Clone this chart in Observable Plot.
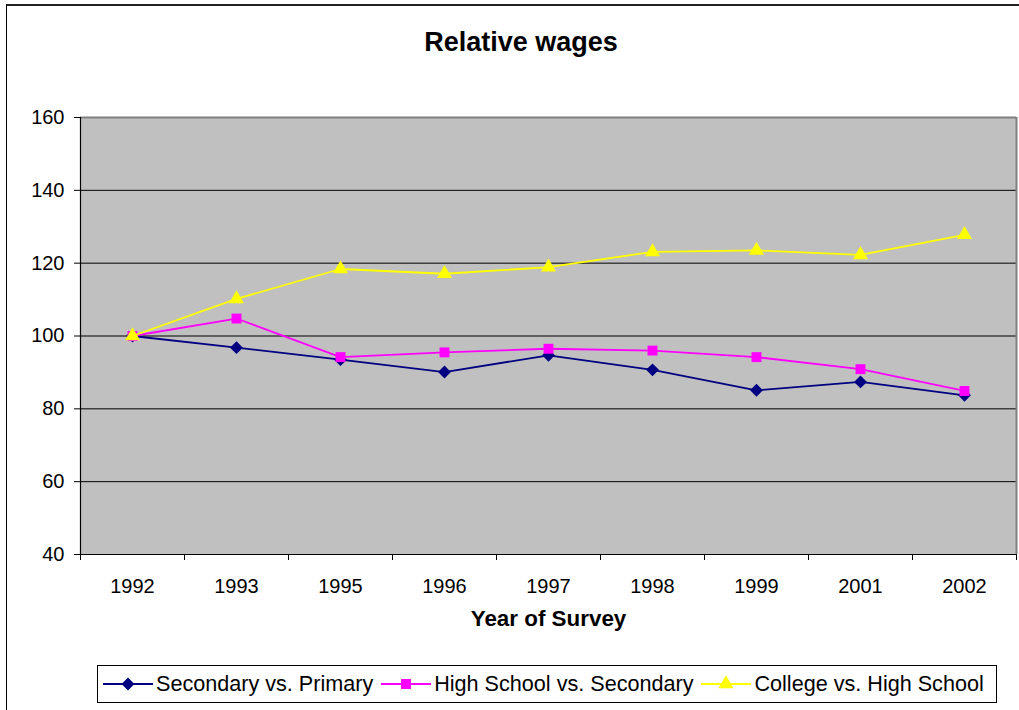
<!DOCTYPE html>
<html><head><meta charset="utf-8">
<script src="https://cdn.jsdelivr.net/npm/d3@7"></script>
<script src="https://cdn.jsdelivr.net/npm/@observablehq/plot@0.6"></script>
<style>
body{margin:0;background:#fff;font-family:"Liberation Sans",Arial,sans-serif;}
#wrap{position:relative;width:1019px;height:710px;overflow:hidden;}
#frame{position:absolute;left:6px;top:4px;width:1100px;height:800px;border-left:1.5px solid #000;border-top:2px solid #222;}
#title{position:absolute;left:0;width:1042px;top:27px;text-align:center;font-weight:bold;font-size:27px;color:#000;}
#chart{position:absolute;left:0;top:0;}
#legend{position:absolute;left:97px;top:665px;width:900px;height:38px;border:1px solid #000;display:flex;align-items:center;padding-left:5px;box-sizing:border-box;background:#fff;}
.item{display:flex;align-items:center;margin-right:8px;font-size:21.6px;color:#000;white-space:nowrap;}
.item svg{margin-right:3px;}
</style></head>
<body>
<div id="wrap">
<div id="frame"></div>
<div id="title">Relative wages</div>
<div id="chart"></div>
<div id="legend"></div>
</div>
<script>
const years = ["1992","1993","1995","1996","1997","1998","1999","2001","2002"];
const seriesNames = ["Secondary vs. Primary","High School vs. Secondary","College vs. High School"];
const secondaryVsPrimary = [100, 96.8, 93.5, 90.1, 94.7, 90.7, 85.1, 87.4, 83.7];
const highSchoolVsSecondary = [100, 104.8, 94.2, 95.5, 96.5, 96.0, 94.2, 90.9, 84.9];
const collegeVsHighSchool = [100, 110.2, 118.4, 117.1, 118.9, 123.1, 123.5, 122.3, 127.8];
const yTicks = [40, 60, 80, 100, 120, 140, 160];
const colors = ["#000080", "#FF00FF", "#FFFF00"];
const symbols = ["diamond2", "square", "triangle"];
const radii = [5.8, 5.6, 5.6];

const seriesValues = [secondaryVsPrimary, highSchoolVsSecondary, collegeVsHighSchool];
const tables = seriesValues.map((vals, s) => vals.map((v, i) => ({i, year: years[i], value: v, series: seriesNames[s]})));

const seriesMarks = tables.flatMap((t, s) => [
  Plot.line(t, {x: "i", y: "value", stroke: colors[s], strokeWidth: 1.8}),
  Plot.dot(t, {x: "i", y: "value", symbol: symbols[s], fill: colors[s], stroke: "none", r: radii[s]})
]);

const chart = Plot.plot({
  width: 1019,
  height: 660,
  marginLeft: 80,
  marginRight: 3,
  marginTop: 117,
  marginBottom: 106,
  style: {fontFamily: '"Liberation Sans", Arial, sans-serif', fontSize: "20px", color: "#000", background: "transparent", overflow: "visible"},
  x: {type: "linear", domain: [-0.5, years.length - 0.5]},
  y: {domain: [40, 160]},
  marks: [
    Plot.frame({fill: "#C0C0C0", stroke: "none"}),
    Plot.ruleY(yTicks.slice(1, -1), {stroke: "#000", strokeWidth: 1}),
    Plot.ruleY([160], {stroke: "#808080", strokeWidth: 2}),
    Plot.ruleX([years.length - 0.5], {stroke: "#808080", strokeWidth: 2}),
    Plot.ruleY([40], {stroke: "#000", strokeWidth: 1.2}),
    Plot.ruleX([-0.5], {stroke: "#000", strokeWidth: 1.2}),
    Plot.axisY({ticks: yTicks, tickSize: 6, tickPadding: 10, tickFormat: d => String(d), label: null, stroke: "#000"}),
    Plot.axisX({ticks: d3.range(-0.5, years.length, 1), tickSize: 6, tickFormat: () => "", label: null, stroke: "#000"}),
    Plot.axisX({ticks: d3.range(years.length), tickSize: 0, tickPadding: 24, tickFormat: i => years[i], label: null}),
    Plot.text(["Year of Survey"], {frameAnchor: "bottom", dy: 71, text: d => d, fontWeight: "bold", fontSize: 22.4, fill: "#000"}),
    ...seriesMarks
  ]
});
document.getElementById("chart").appendChild(chart);

// legend
const legend = d3.select("#legend");
const symMap = {diamond2: d3.symbolDiamond2, square: d3.symbolSquare, triangle: d3.symbolTriangle};
seriesNames.forEach((name, s) => {
  const item = legend.append("div").attr("class", "item");
  const svg = item.append("svg").attr("width", 50).attr("height", 20);
  svg.append("line").attr("x1", 0).attr("x2", 50).attr("y1", 10).attr("y2", 10).attr("stroke", colors[s]).attr("stroke-width", 1.8);
  const r = radii[s];
  svg.append("path").attr("transform", "translate(25,10)").attr("d", d3.symbol(symMap[symbols[s]], Math.PI * r * r)()).attr("fill", colors[s]);
  item.append("span").text(name);
});
</script>
</body></html>
